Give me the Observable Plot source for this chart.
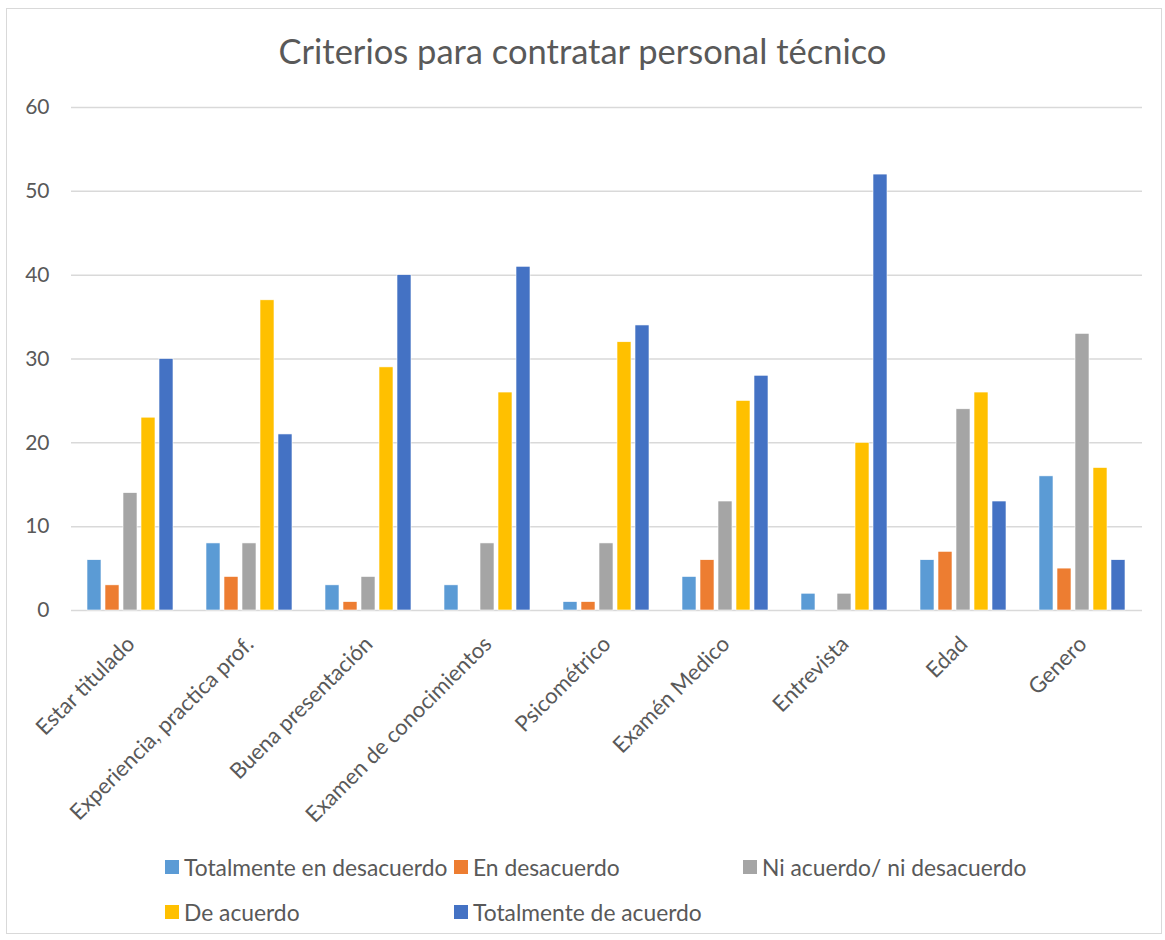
<!DOCTYPE html>
<html>
<head>
<meta charset="utf-8">
<script src="https://cdn.jsdelivr.net/npm/d3@7"></script>
<script src="https://cdn.jsdelivr.net/npm/@observablehq/plot@0.6"></script>
<style>
  html, body { margin: 0; padding: 0; background: #fff; }
  #wrap { position: relative; width: 1165px; height: 940px; font-family: Lato, "Open Sans", sans-serif; color: #595959; }
  #frame { position: absolute; left: 6px; top: 8px; width: 1156px; height: 926px; border: 1.5px solid #d9d9d9; box-sizing: border-box; }
  #title { position: absolute; left: 0; width: 1165px; top: 29px; text-align: center; font-size: 34.5px; line-height: 44px; color: #595959; }
  #chart { position: absolute; left: 0; top: 0; }
  #chart svg { overflow: visible; }
  .leg { position: absolute; font-size: 22.8px; color: #595959; white-space: nowrap; line-height: 28px; display: flex; align-items: center; }
  .leg span.sw { display: inline-block; width: 14px; height: 14px; margin-right: 5px; }
  #chart g[aria-label="fx-axis tick label"] text { font-size: 22px; }
</style>
</head>
<body>
<div id="wrap">
  <div id="frame"></div>
  <div id="chart"></div>
  <div id="title">Criterios para contratar personal técnico</div>
  <div id="legend"></div>
</div>
<script>
const categories = ["Estar titulado", "Experiencia, practica prof.", "Buena presentación", "Examen de conocimientos", "Psicométrico", "Examén Medico", "Entrevista", "Edad", "Genero"];
const series = ["Totalmente en desacuerdo", "En desacuerdo", "Ni acuerdo/ ni desacuerdo", "De acuerdo", "Totalmente de acuerdo"];
const colors = ["#5B9BD5", "#ED7D31", "#A5A5A5", "#FFC000", "#4472C4"];
const totalmenteEnDesacuerdo = [6, 8, 3, 3, 1, 4, 2, 6, 16];
const enDesacuerdo = [3, 4, 1, 0, 1, 6, 0, 7, 5];
const niAcuerdoNiDesacuerdo = [14, 8, 4, 8, 8, 13, 2, 24, 33];
const deAcuerdo = [23, 37, 29, 26, 32, 25, 20, 26, 17];
const totalmenteDeAcuerdo = [30, 21, 40, 41, 34, 28, 52, 13, 6];
const yTicks = [0, 10, 20, 30, 40, 50, 60];

const seriesValues = [totalmenteEnDesacuerdo, enDesacuerdo, niAcuerdoNiDesacuerdo, deAcuerdo, totalmenteDeAcuerdo];
const data = [];
categories.forEach((c, i) => {
  series.forEach((s, j) => data.push({category: c, serie: s, value: seriesValues[j][i]}));
});

const chart = Plot.plot({
  width: 1165,
  height: 850,
  marginTop: 107,
  marginBottom: 240,
  marginLeft: 70,
  marginRight: 22,
  style: {fontFamily: "Lato, 'Open Sans', sans-serif", fontSize: "21px", color: "#595959", background: "transparent"},
  fx: {domain: categories, padding: 0, axis: "bottom", label: null, tickRotate: -45, tickSize: 0, tickPadding: 30},
  x: {domain: series, axis: null, paddingInner: 0.22, paddingOuter: 0.86},
  y: {domain: [0, 60], ticks: yTicks, tickSize: 0, tickPadding: 22, label: null, tickFormat: d => d},
  color: {domain: series, range: colors},
  marks: [
    Plot.ruleY(yTicks, {stroke: "#d9d9d9", strokeWidth: 1.5}),
    Plot.barY(data, {fx: "category", x: "serie", y: "value", fill: "serie", stroke: "white", strokeWidth: 0.6})
  ]
});
document.getElementById("chart").appendChild(chart);

const legendPos = [
  {x: 165, y: 853}, {x: 454, y: 853}, {x: 743, y: 853},
  {x: 165, y: 898}, {x: 454, y: 898}
];
const leg = document.getElementById("legend");
series.forEach((s, j) => {
  const d = document.createElement("div");
  d.className = "leg";
  d.style.left = legendPos[j].x + "px";
  d.style.top = legendPos[j].y + "px";
  d.innerHTML = `<span class="sw" style="background:${colors[j]}"></span><span>${s}</span>`;
  leg.appendChild(d);
});
</script>
</body>
</html>
